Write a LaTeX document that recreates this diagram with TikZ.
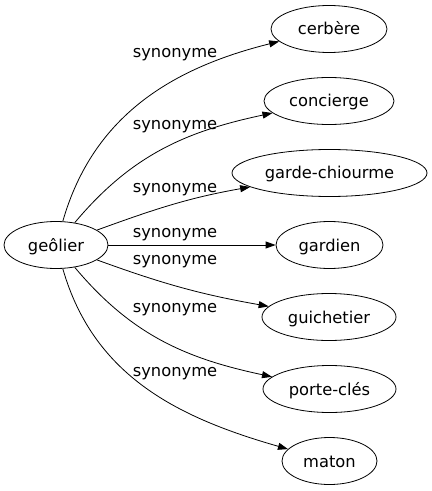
\documentclass[tikz,border=0pt]{standalone}
\usepackage{fontspec}
\setmainfont{DejaVu Sans}
\usetikzlibrary{shapes.geometric,arrows.meta}

\begin{document}
\begin{tikzpicture}[x=1bp,y=-1bp,
    mot/.style={draw, ellipse, line width=0.8bp, minimum height=47bp, inner sep=0pt,
      text height=16bp, text depth=4bp, font=\fontsize{16.3bp}{19bp}\selectfont},
    lien/.style={-{Triangle[length=10bp,width=7bp]}, line width=0.8bp},
    etiq/.style={inner sep=0pt, font=\fontsize{16.3bp}{19bp}\selectfont}]
  \useasboundingbox (0,0) rectangle (431,491);
  % les mots
  \node[mot, minimum width=104bp] (geolier) at (56,245) {geôlier};
  \node[mot, minimum width=116bp] (cerbere) at (329,29) {cerbère};
  \node[mot, minimum width=130bp] (concierge) at (329,101) {concierge};
  \node[mot, minimum width=195bp] (garde) at (329.5,173) {garde-chiourme};
  \node[mot, minimum width=107bp] (gardien) at (329.5,245) {gardien};
  \node[mot, minimum width=134bp] (guichetier) at (329,317) {guichetier};
  \node[mot, minimum width=133bp] (porte) at (329.5,389) {porte-clés};
  \node[mot, minimum width=95bp] (maton) at (329.5,461) {maton};
  % les liens
  \draw[lien] (geolier) to[out=74,in=194] (cerbere);
  \draw[lien] (geolier) to[out=50,in=192] (concierge);
  \draw[lien] (geolier) to[out=20,in=190] (garde);
  \draw[lien] (geolier) -- (gardien);
  \draw[lien] (geolier) to[out=-20,in=170] (guichetier);
  \draw[lien] (geolier) to[out=-50,in=168] (porte);
  \draw[lien] (geolier) to[out=-74,in=164] (maton);
  % les etiquettes
  \node[etiq] (s1) at (175,54.5) {synonyme};
  \node[etiq] (s2) at (175,127) {synonyme};
  \node[etiq] (s3) at (175,189.5) {synonyme};
  \node[etiq] (s4) at (175,235) {synonyme};
  \node[etiq] (s5) at (175,262) {synonyme};
  \node[etiq] (s6) at (175,310) {synonyme};
  \node[etiq] (s7) at (175,374) {synonyme};
\end{tikzpicture}
\end{document}
